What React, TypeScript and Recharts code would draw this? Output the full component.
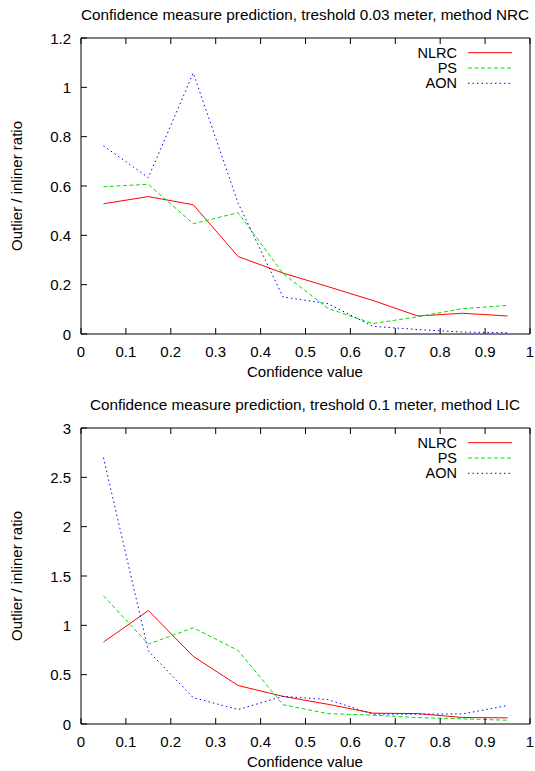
import { LineChart, Line, XAxis, YAxis, Legend } from "recharts";

/* ── data ────────────────────────────────────────────────────────── */

const confidence = [0.05, 0.15, 0.25, 0.35, 0.45, 0.55, 0.65, 0.75, 0.85, 0.95];
const xTicks = [0, 0.1, 0.2, 0.3, 0.4, 0.5, 0.6, 0.7, 0.8, 0.9, 1];

// top: treshold 0.03 meter, method NRC
const nrcNLRC = [0.528, 0.557, 0.524, 0.314, 0.247, 0.192, 0.136, 0.073, 0.084, 0.073];
const nrcPS = [0.597, 0.607, 0.447, 0.492, 0.245, 0.104, 0.042, 0.07, 0.103, 0.116];
const nrcAON = [0.763, 0.634, 1.058, 0.53, 0.15, 0.123, 0.031, 0.018, 0.008, 0.005];
const nrcYTicks = [0, 0.2, 0.4, 0.6, 0.8, 1, 1.2];

// bottom: treshold 0.1 meter, method LIC
const licNLRC = [0.83, 1.15, 0.685, 0.39, 0.28, 0.2, 0.11, 0.105, 0.066, 0.062];
const licPS = [1.3, 0.81, 0.975, 0.745, 0.195, 0.105, 0.09, 0.065, 0.052, 0.038];
const licAON = [2.7, 0.74, 0.267, 0.147, 0.28, 0.247, 0.1, 0.1, 0.102, 0.187];
const licYTicks = [0, 0.5, 1, 1.5, 2, 2.5, 3];

const seriesNames = ["NLRC", "PS", "AON"];
const seriesColors = ["#ff0000", "#00e000", "#0000ff"];
const seriesDash = [undefined, "4 2.5", "1.5 3"];

/* ── pieces ──────────────────────────────────────────────────────── */

const FONT = "'Liberation Sans', Arial, sans-serif";
const TICK = 6;

const BottomTick = ({ x, y, payload }: any) => (
  <g>
    <line x1={x} y1={y} x2={x} y2={y - TICK} stroke="#000" />
    <text x={x} y={y + 17} textAnchor="middle" dominantBaseline="central" fontSize={15} fontFamily={FONT} fill="#000">
      {String(payload.value)}
    </text>
  </g>
);

const TopTick = ({ x, y }: any) => <line x1={x} y1={y} x2={x} y2={y + TICK} stroke="#000" />;

const LeftTick = ({ x, y, payload }: any) => (
  <g>
    <line x1={x} y1={y} x2={x + TICK} y2={y} stroke="#000" />
    <text x={x - 10} y={y} textAnchor="end" dominantBaseline="central" fontSize={15} fontFamily={FONT} fill="#000">
      {String(payload.value)}
    </text>
  </g>
);

const RightTick = ({ x, y }: any) => <line x1={x} y1={y} x2={x - TICK} y2={y} stroke="#000" />;

const renderLegend = () => (
  <svg width={130} height={58}>
    {seriesNames.map((name, i) => (
      <g key={name}>
        <text x={57} y={14.7 + i * 15.3} textAnchor="end" dominantBaseline="central" fontSize={14.5} fontFamily={FONT} fill="#000">
          {name}
        </text>
        <line x1={68} y1={14.7 + i * 15.3} x2={112} y2={14.7 + i * 15.3} stroke={seriesColors[i]} strokeDasharray={seriesDash[i]} />
      </g>
    ))}
  </svg>
);

function Panel({
  top,
  title,
  yTicks,
  series,
}: {
  top: number;
  title: string;
  yTicks: number[];
  series: number[][];
}) {
  const data = confidence.map((c, i) => ({
    c,
    NLRC: series[0][i],
    PS: series[1][i],
    AON: series[2][i],
  }));
  const yMax = yTicks[yTicks.length - 1];
  const center: React.CSSProperties = {
    position: "absolute",
    whiteSpace: "nowrap",
    fontSize: 15,
    lineHeight: "18px",
    fontFamily: FONT,
    color: "#000",
  };

  return (
    <div style={{ position: "absolute", left: 0, top, width: 535, height: 381 }}>
      <div style={{ ...center, fontSize: 15.3, left: 305, top: 15, transform: "translate(-50%, -50%)" }}>{title}</div>
      <div style={{ ...center, left: 305, top: 372, transform: "translate(-50%, -50%)" }}>Confidence value</div>
      <div style={{ ...center, left: 17, top: 186, transform: "translate(-50%, -50%) rotate(-90deg)" }}>
        Outlier / inliner ratio
      </div>
      <LineChart width={535} height={381} data={data} margin={{ top: 37, right: 4, bottom: 0, left: 0 }}>
        <XAxis
          dataKey="c"
          type="number"
          domain={[0, 1]}
          ticks={xTicks}
          interval={0}
          height={47}
          tickSize={0}
          tickMargin={0}
          tick={<BottomTick />}
          axisLine={{ stroke: "#000" }}
          tickLine={false}
        />
        <XAxis
          xAxisId="top"
          orientation="top"
          dataKey="c"
          type="number"
          domain={[0, 1]}
          ticks={xTicks}
          interval={0}
          height={1}
          tickSize={0}
          tickMargin={0}
          tick={<TopTick />}
          axisLine={{ stroke: "#000" }}
          tickLine={false}
        />
        <YAxis
          type="number"
          domain={[0, yMax]}
          ticks={yTicks}
          interval={0}
          width={81}
          tickSize={0}
          tickMargin={0}
          tick={<LeftTick />}
          axisLine={{ stroke: "#000" }}
          tickLine={false}
        />
        <YAxis
          yAxisId="right"
          orientation="right"
          type="number"
          domain={[0, yMax]}
          ticks={yTicks}
          interval={0}
          width={1}
          tickSize={0}
          tickMargin={0}
          tick={<RightTick />}
          axisLine={{ stroke: "#000" }}
          tickLine={false}
        />
        <Legend
          layout="vertical"
          align="center"
          verticalAlign="middle"
          content={renderLegend}
          wrapperStyle={{ left: 400, top: 38, width: 130, height: 58 }}
        />
        {seriesNames.map((name, i) => (
          <Line
            key={name}
            dataKey={name}
            type="linear"
            stroke={seriesColors[i]}
            strokeWidth={1}
            strokeDasharray={seriesDash[i]}
            dot={false}
            activeDot={false}
            isAnimationActive={false}
          />
        ))}
      </LineChart>
    </div>
  );
}

export default function App() {
  return (
    <div style={{ position: "absolute", left: 0, top: 0, width: 535, height: 771, background: "#fff" }}>
      <Panel
        top={0}
        title="Confidence measure prediction, treshold 0.03 meter, method NRC"
        yTicks={nrcYTicks}
        series={[nrcNLRC, nrcPS, nrcAON]}
      />
      <Panel
        top={390}
        title="Confidence measure prediction, treshold 0.1 meter, method LIC"
        yTicks={licYTicks}
        series={[licNLRC, licPS, licAON]}
      />
    </div>
  );
}
